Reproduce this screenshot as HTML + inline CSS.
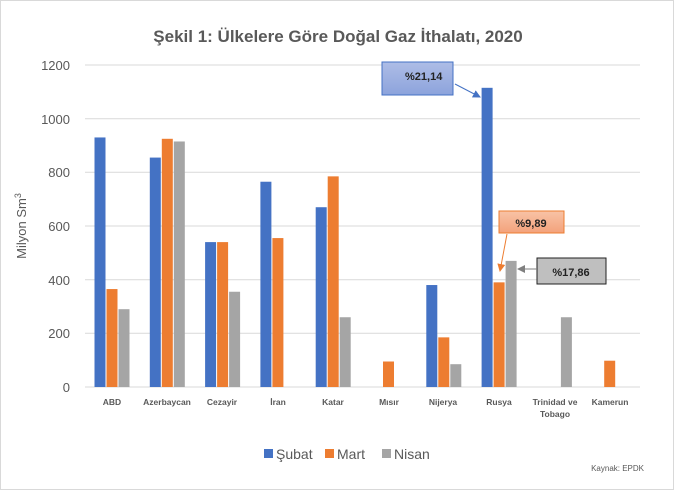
<!DOCTYPE html>
<html><head><meta charset="utf-8"><style>
html,body{margin:0;padding:0;background:#fff}
svg{display:block;font-family:"Liberation Sans",sans-serif}
</style></head><body>
<svg width="675" height="491" viewBox="0 0 675 491">
<rect x="0.5" y="0.5" width="673" height="489" fill="#fff" stroke="#d9d9d9"/>
<text x="338" y="42" text-anchor="middle" font-size="17" font-weight="bold" fill="#595959">Şekil 1: Ülkelere Göre Doğal Gaz İthalatı, 2020</text>
<g stroke="#d9d9d9" stroke-width="1">
<line x1="85" y1="65" x2="640" y2="65"/><line x1="85" y1="118.7" x2="640" y2="118.7"/>
<line x1="85" y1="172.3" x2="640" y2="172.3"/><line x1="85" y1="226" x2="640" y2="226"/>
<line x1="85" y1="279.7" x2="640" y2="279.7"/><line x1="85" y1="333.3" x2="640" y2="333.3"/>
<line x1="85" y1="387" x2="640" y2="387"/>
</g>
<g font-size="13" fill="#595959" text-anchor="end">
<text x="70" y="70">1200</text><text x="70" y="124">1000</text><text x="70" y="177">800</text>
<text x="70" y="231">600</text><text x="70" y="285">400</text><text x="70" y="338">200</text><text x="70" y="392">0</text>
</g>
<text transform="translate(26,226) rotate(-90)" text-anchor="middle" font-size="13" fill="#595959">Milyon Sm<tspan dy="-5" font-size="9">3</tspan></text>
<g id="bars"></g>
<g font-size="8.5" font-weight="bold" fill="#595959" text-anchor="middle">
<text x="112" y="405">ABD</text><text x="167" y="405">Azerbaycan</text><text x="222" y="405">Cezayir</text>
<text x="278" y="405">İran</text><text x="333" y="405">Katar</text><text x="389" y="405">Mısır</text>
<text x="443" y="405">Nijerya</text><text x="499" y="405">Rusya</text><text x="555" y="405">Trinidad ve</text>
<text x="555" y="417">Tobago</text><text x="610" y="405">Kamerun</text>
</g>
<rect x="264" y="449" width="9" height="9" fill="#4472c4"/><text x="276" y="459" font-size="14" fill="#595959">Şubat</text>
<rect x="325" y="449" width="9" height="9" fill="#ed7d31"/><text x="337" y="459" font-size="14" fill="#595959">Mart</text>
<rect x="382" y="449" width="9" height="9" fill="#a5a5a5"/><text x="394" y="459" font-size="14" fill="#595959">Nisan</text>
<text x="644" y="471" font-size="8" fill="#595959" text-anchor="end">Kaynak: EPDK</text>
<defs>
<marker id="ab" markerWidth="8" markerHeight="8" refX="7" refY="4" orient="auto" markerUnits="userSpaceOnUse"><path d="M0,0L8,4L0,8z" fill="#4472c4"/></marker>
<marker id="ao" markerWidth="8" markerHeight="8" refX="7" refY="4" orient="auto" markerUnits="userSpaceOnUse"><path d="M0,0L8,4L0,8z" fill="#ed7d31"/></marker>
<marker id="ag" markerWidth="8" markerHeight="8" refX="7" refY="4" orient="auto" markerUnits="userSpaceOnUse"><path d="M0,0L8,4L0,8z" fill="#7f7f7f"/></marker>
<linearGradient id="gb" x1="0" y1="0" x2="0" y2="1"><stop offset="0" stop-color="#aebde6"/><stop offset="1" stop-color="#8ca3dc"/></linearGradient>
<linearGradient id="go" x1="0" y1="0" x2="0" y2="1"><stop offset="0" stop-color="#f8c3a6"/><stop offset="1" stop-color="#f3a27b"/></linearGradient>
</defs>
<rect x="382" y="62" width="71" height="33" fill="url(#gb)" stroke="#4472c4"/>
<text x="405" y="80" font-size="11" font-weight="bold" fill="#222">%21,14</text>
<line x1="455" y1="84" x2="480" y2="97" stroke="#4472c4" marker-end="url(#ab)"/>
<rect x="499" y="211" width="65" height="22" fill="url(#go)" stroke="#ed7d31"/>
<text x="531" y="227" font-size="11" font-weight="bold" fill="#222" text-anchor="middle">%9,89</text>
<line x1="507" y1="234" x2="500" y2="271" stroke="#ed7d31" marker-end="url(#ao)"/>
<rect x="537" y="258" width="69" height="26" fill="#bfbfbf" stroke="#222"/>
<text x="571" y="276" font-size="11" font-weight="bold" fill="#222" text-anchor="middle">%17,86</text>
<line x1="537" y1="269" x2="518" y2="269" stroke="#7f7f7f" marker-end="url(#ag)"/>
</svg>
<script>
var d=[[930,365,290],[855,925,915],[540,540,355],[765,555,0],[670,785,260],[0,95,0],[380,185,85],[1115,390,470],[0,0,260],[0,98,0]];
var c=["#4472c4","#ed7d31","#a5a5a5"],g=document.getElementById("bars"),s="";
d.forEach(function(r,i){var cx=112+i*55.3;r.forEach(function(v,j){if(!v)return;var h=v*0.26833;s+='<rect x="'+(cx-17.5+j*12)+'" y="'+(387-h)+'" width="11" height="'+h+'" fill="'+c[j]+'"/>';});});
g.innerHTML=s;
</script>
</body></html>
